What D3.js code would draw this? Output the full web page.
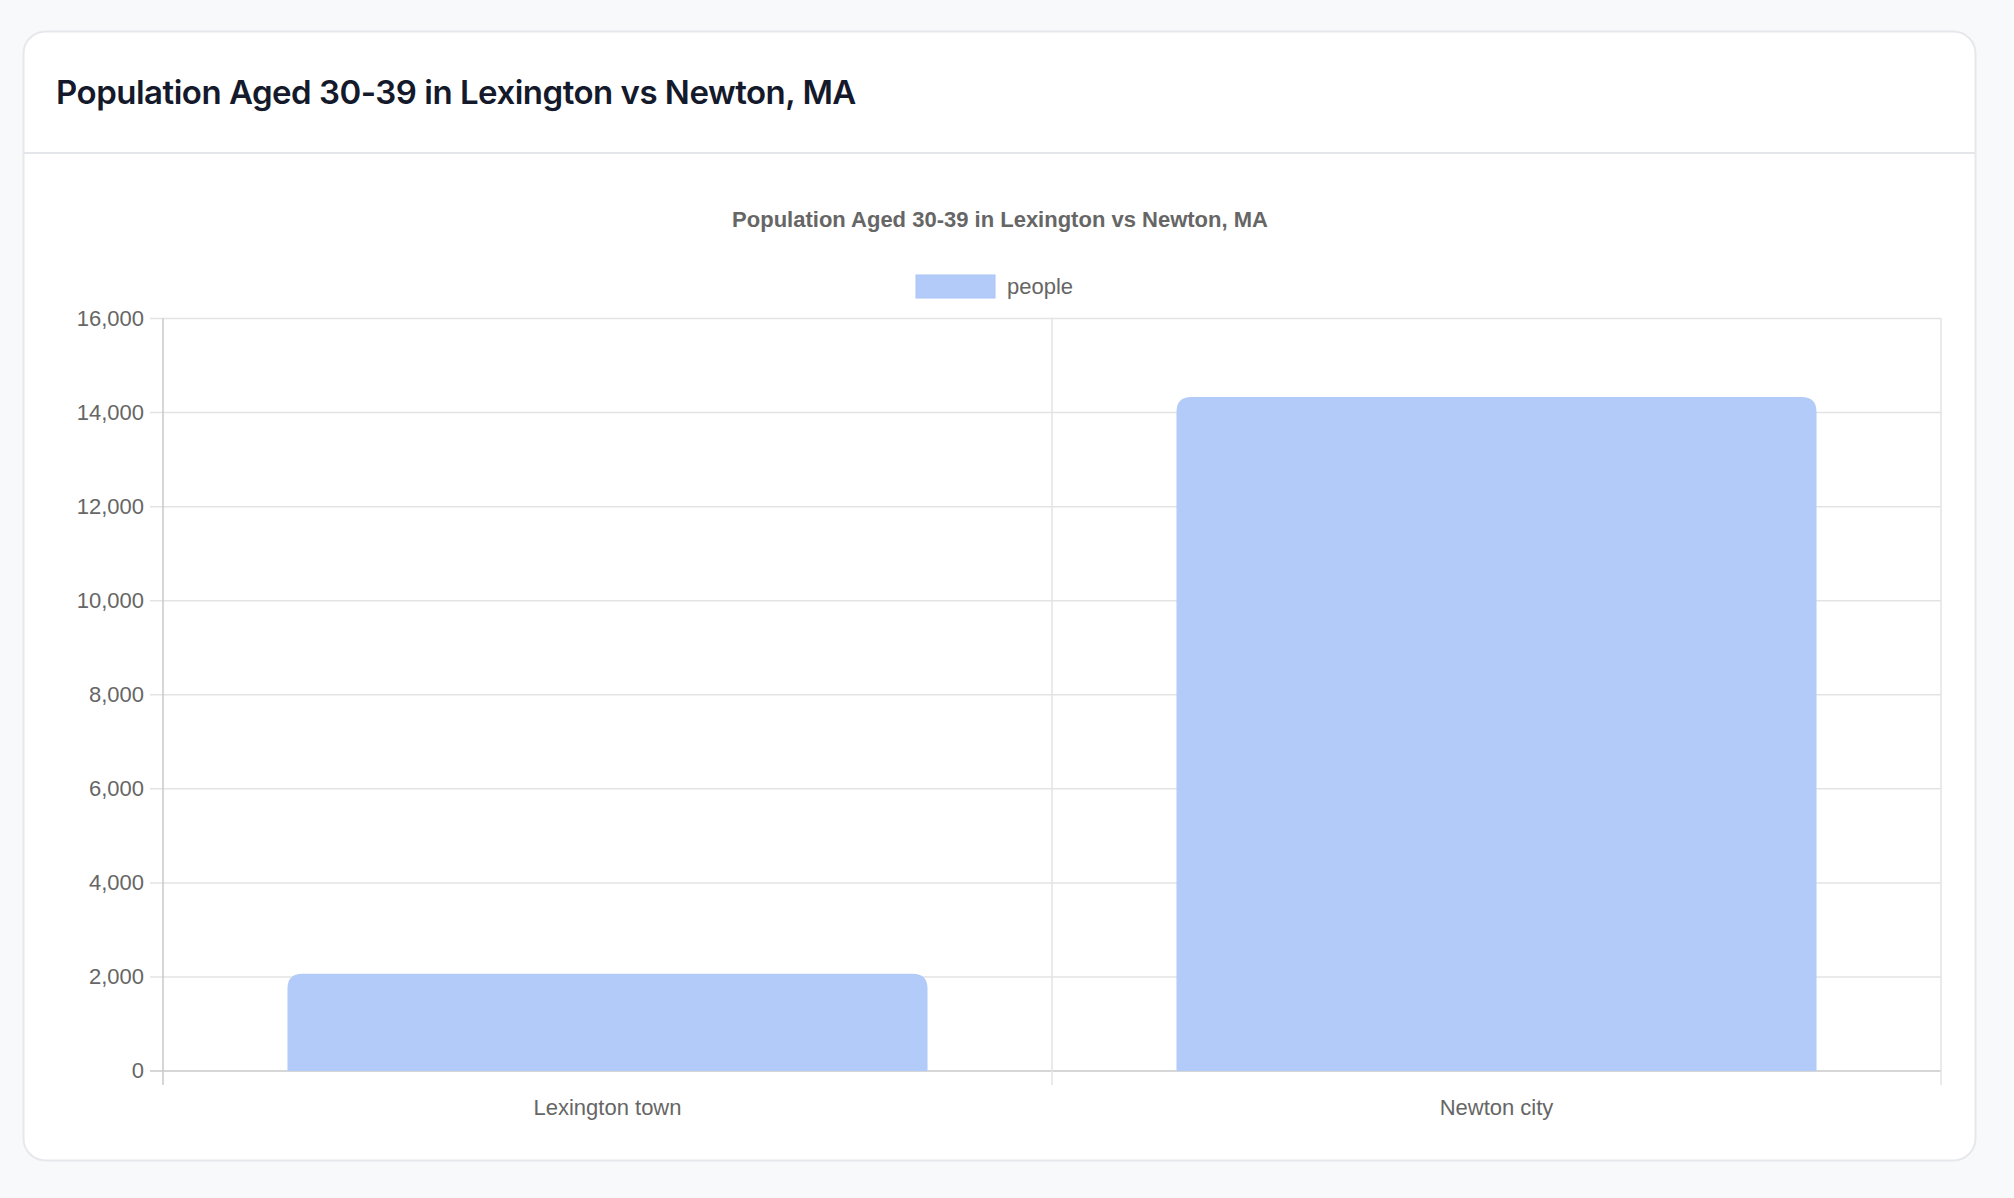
<!DOCTYPE html>
<html><head><meta charset="utf-8">
<script src="https://cdn.jsdelivr.net/npm/d3@7"></script>
<style>
html,body{margin:0;padding:0;background:#f8f9fb;}
svg{display:block;}
</style></head>
<body>
<svg id="c" width="2014" height="1198"></svg>
<script>
const categories = ["Lexington town", "Newton city"];
const peopleValues = [2070, 14330];
const yTicks = [0, 2000, 4000, 6000, 8000, 10000, 12000, 14000, 16000];
const seriesName = "people";
const titleText = "Population Aged 30-39 in Lexington vs Newton, MA";

const svg = d3.select("#c");
const font = "Inter, 'Open Sans', sans-serif";
// card
svg.append("rect").attr("x",23.5).attr("y",31.5).attr("width",1952).attr("height",1129)
  .attr("rx",22).attr("fill","#fff").attr("stroke","#e6e8ec").attr("stroke-width",2);
svg.append("line").attr("x1",24).attr("x2",1975).attr("y1",153).attr("y2",153).attr("stroke","#e4e6ea").attr("stroke-width",2);
svg.append("text").attr("x",56).attr("y",104).text(titleText)
  .attr("font-family",font).attr("font-weight",600).attr("font-size",33).attr("fill","#141a2b").attr("letter-spacing","-0.5");

// chart title
svg.append("text").attr("x",1000).attr("y",227).attr("text-anchor","middle").text(titleText)
  .attr("font-family","'Liberation Sans', Arial, sans-serif").attr("font-weight",700).attr("font-size",22).attr("fill","#666");

// legend
svg.append("rect").attr("x",916).attr("y",275).attr("width",79).attr("height",23).attr("fill","#b3cbf9").attr("stroke","#a9c3f6");
svg.append("text").attr("x",1007).attr("y",294).text(seriesName)
  .attr("font-family","'Liberation Sans', Arial, sans-serif").attr("font-size",22).attr("fill","#666");

const L=163, R=1941, T=318.5, B=1071;
const y = d3.scaleLinear().domain([0,16000]).range([B,T]);
const x = d3.scaleBand().domain(categories).range([L,R]);
const g = svg.append("g");

// grid horizontal
yTicks.forEach(t=>{
  g.append("line").attr("x1",L-13).attr("x2",R).attr("y1",y(t)).attr("y2",y(t))
   .attr("stroke", t===0 ? "#c8c8c8" : "#e3e3e3").attr("stroke-width",1.5);
  g.append("text").attr("x",L-19).attr("y",y(t)+7).attr("text-anchor","end").text(d3.format(",")(t))
   .attr("font-family","'Liberation Sans', Arial, sans-serif").attr("font-size",22).attr("fill","#666");
});
// vertical grid
const vx = [L, ...categories.map(c=>x(c)+x.bandwidth())];
vx.forEach((v,i)=>{
  g.append("line").attr("x1",v).attr("x2",v).attr("y1",T).attr("y2",B+14)
   .attr("stroke", i===0 ? "#c8c8c8" : "#e3e3e3").attr("stroke-width",1.5);
});

// bars
const bw = x.bandwidth()*0.72, r=15;
categories.forEach((c,i)=>{
  const x0 = x(c)+(x.bandwidth()-bw)/2, x1=x0+bw, y0=y(peopleValues[i]), y1=y(0);
  const p = `M${x0},${y1}V${y0+r}Q${x0},${y0} ${x0+r},${y0}H${x1-r}Q${x1},${y0} ${x1},${y0+r}V${y1}Z`;
  g.append("path").attr("d",p).attr("fill","#b3cbf9");
  g.append("text").attr("x",x(c)+x.bandwidth()/2).attr("y",1115).attr("text-anchor","middle").text(c)
   .attr("font-family","'Liberation Sans', Arial, sans-serif").attr("font-size",22).attr("fill","#666");
});
</script>
</body></html>
